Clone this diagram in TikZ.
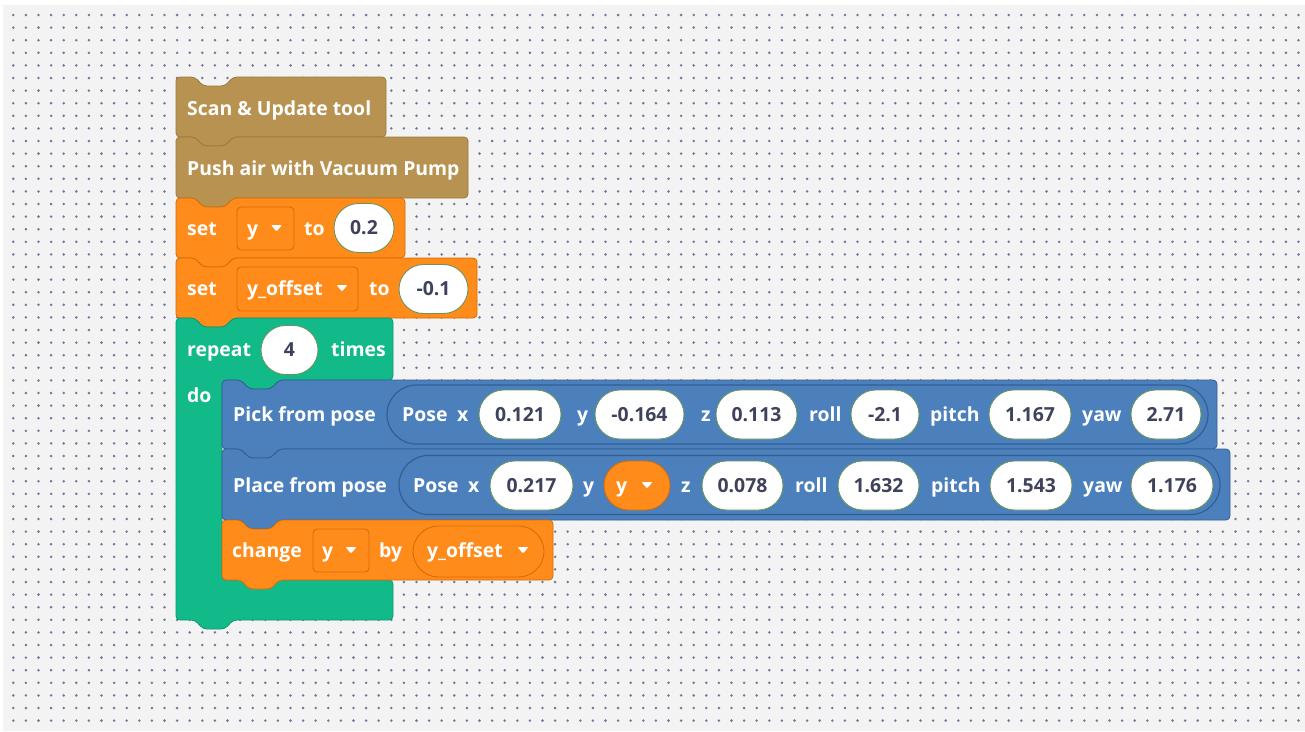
\documentclass[tikz,border=0pt]{standalone}
\usepackage{fontspec}
\setmainfont{Open Sans}
\usetikzlibrary{shapes.misc}
\definecolor{cBg}{RGB}{243,243,244}
\definecolor{cDot}{RGB}{112,120,155}
\definecolor{cBrown}{RGB}{184,146,80}
\definecolor{cBrownD}{RGB}{156,121,60}
\definecolor{cOrange}{RGB}{255,140,26}
\definecolor{cOrangeD}{RGB}{214,108,8}
\definecolor{cGreen}{RGB}{18,185,137}
\definecolor{cGreenD}{RGB}{14,152,112}
\definecolor{cBlue}{RGB}{76,128,188}
\definecolor{cBlueD}{RGB}{50,94,148}
\definecolor{cVal}{RGB}{62,66,90}
\definecolor{cCapLine}{RGB}{104,150,92}
\tikzset{
  lbl/.style={text=white, font=\fontsize{19.4}{19.4}\selectfont\bfseries, inner sep=0pt, text height=13.9pt, text depth=0pt, anchor=west},
  valsty/.style={rounded rectangle, fill=white, draw=cCapLine, line width=0.9pt, text=cVal, font=\fontsize{19.4}{19.4}\selectfont\bfseries, inner sep=0pt, text height=13.9pt, text depth=0pt, minimum height=49pt},
  posesty/.style={rounded rectangle, fill=cBlue, draw=cBlueD, line width=1.2pt, inner sep=0pt, minimum height=59pt},
  ddbox/.style={rectangle, rounded corners=4pt, fill=cOrange, draw=cOrangeD, line width=0.9pt, inner sep=0pt},
  ddcap/.style={rounded rectangle, fill=cOrange, draw=cOrangeD, line width=0.9pt, inner sep=0pt},
  brownblk/.style={fill=cBrown, draw=cBrownD, line width=0.8pt},
  orangeblk/.style={fill=cOrange, draw=cOrangeD, line width=0.8pt},
  greenblk/.style={fill=cGreen, draw=cGreenD, line width=0.8pt},
  blueblk/.style={fill=cBlue, draw=cBlueD, line width=0.8pt},
}
% statement block: left, top, right, bottom, style
\newcommand\stmtblk[5]{%
  \draw[#5, rounded corners=4pt] (#1,{(#2+#4)/2}) -- (#1,#2) -- ({#1+19},#2) -- ({#1+27},{#2+9}) -- ({#1+49},{#2+9}) -- ({#1+57},#2) -- (#3,#2) -- (#3,#4) -- ({#1+57},#4) -- ({#1+49},{#4+9}) -- ({#1+27},{#4+9}) -- ({#1+19},#4) -- (#1,#4) -- cycle;}
% value capsule: name, x1, x2, cy, text
\newcommand\valcap[5]{\node[valsty, minimum width={(#3-#2)*1pt}] (#1) at ({(#2+#3)/2},#4) {#5};}
% dropdown triangle: x, y
\newcommand\ddtri[2]{\fill[white, rounded corners=1pt] ({#1-5.5},{#2-3}) -- ({#1+5.5},{#2-3}) -- (#1,{#2+3.5}) -- cycle;}
\begin{document}
\begin{tikzpicture}[x=1pt, y=-1pt]
\useasboundingbox (0,0) rectangle (1305,731);
\fill[white] (0,0) rectangle (1305,731);
\fill[cBg] (3,5) rectangle (1305,731);
\foreach \i in {0,...,102}{
  \foreach \j in {0,...,56}{
    \fill[cDot] ({13.3+12.6*\i},{15+12.6*\j}) circle (1.4pt);
  }
}
% ---------- stacked blocks ----------
\stmtblk{176}{77}{386}{137}{brownblk}
\stmtblk{176}{137}{468}{198}{brownblk}
\stmtblk{176}{198}{405}{258}{orangeblk}
\stmtblk{176}{258}{477}{318}{orangeblk}
% repeat C-block
\draw[greenblk, rounded corners=4pt] (176,470) -- (176,318) -- (195,318) -- (203,327) -- (225,327) -- (233,318)
  -- (393,318) -- (393,380) -- (279,380) -- (271,389) -- (249,389) -- (241,380) -- (222,380)
  -- (222,580) -- (393,580) -- (393,620) -- (233,620) -- (225,629) -- (203,629) -- (195,620) -- (176,620) -- cycle;
\stmtblk{222}{380}{1217}{449}{blueblk}
\stmtblk{222}{449}{1230}{520}{blueblk}
\stmtblk{222}{520}{553}{580}{orangeblk}
% ---------- texts ----------
\node[lbl] (scan) at (187,108.5) {Scan \& Update tool};
\node[lbl] (push) at (187,168.5) {Push air with Vacuum Pump};
% set y to 0.2
\node[lbl] (set1) at (187,229) {set};
\node[ddbox, minimum width=57pt, minimum height=43pt] (dd1) at (265.5,228.5) {};
\node[lbl] (dd1t) at (247,229) {y};
\ddtri{276.5}{228}
\node[lbl] (to1) at (304,229) {to};
\valcap{v02}{334}{394}{228}{0.2}
% set y_offset to -0.1
\node[lbl] (set2) at (187,289) {set};
\node[ddbox, minimum width=121pt, minimum height=44pt] (dd2) at (297.5,289) {};
\node[lbl] (dd2t) at (247,289) {y\_offset};
\ddtri{342}{288}
\node[lbl] (to2) at (369,289) {to};
\valcap{vm01}{399}{468}{289}{-0.1}
% repeat
\node[lbl] (rep) at (187,350) {repeat};
\valcap{v4}{261}{318}{350}{4}
\node[lbl] (times) at (331,350) {times};
\node[lbl] (do) at (187,396) {do};
% Pick from pose
\node[lbl] (pick) at (233,415) {Pick from pose};
\node[posesty, minimum width=821pt] (pose1) at (797.5,414.5) {};
\node[lbl] (p1pose) at (402,415) {Pose};
\node[lbl] (p1x) at (457,415) {x};
\valcap{p1xv}{479}{561}{414.5}{0.121}
\node[lbl] (p1y) at (577,415) {y};
\valcap{p1yv}{595}{684}{414.5}{-0.164}
\node[lbl] (p1z) at (701,415) {z};
\valcap{p1zv}{716}{797}{414.5}{0.113}
\node[lbl] (p1r) at (809,415) {roll};
\valcap{p1rv}{851}{919}{414.5}{-2.1}
\node[lbl] (p1p) at (930,415) {pitch};
\valcap{p1pv}{989}{1071}{414.5}{1.167}
\node[lbl] (p1w) at (1082,415) {yaw};
\valcap{p1wv}{1131}{1201}{414.5}{2.71}
% Place from pose
\node[lbl] (place) at (233,485.5) {Place from pose};
\node[posesty, minimum width=821pt] (pose2) at (809.5,485) {};
\node[lbl] (p2pose) at (413,485.5) {Pose};
\node[lbl] (p2x) at (468,485.5) {x};
\valcap{p2xv}{490}{573}{485.5}{0.217}
\node[lbl] (p2y) at (583,485.5) {y};
\node[ddcap, minimum width=66pt, minimum height=49pt] (p2yv) at (637,485.5) {};
\node[lbl] (p2yt) at (616,485.5) {y};
\ddtri{647}{485}
\node[lbl] (p2z) at (681,485.5) {z};
\valcap{p2zv}{702}{783}{485.5}{0.078}
\node[lbl] (p2r) at (795,485.5) {roll};
\valcap{p2rv}{838}{919}{485.5}{1.632}
\node[lbl] (p2p) at (931,485.5) {pitch};
\valcap{p2pv}{990}{1072}{485.5}{1.543}
\node[lbl] (p2w) at (1083,485.5) {yaw};
\valcap{p2wv}{1131}{1213}{485.5}{1.176}
% change y by y_offset
\node[lbl] (chg) at (232,551) {change};
\node[ddbox, minimum width=56pt, minimum height=43pt] (dd3) at (341,550.5) {};
\node[lbl] (dd3t) at (322,551) {y};
\ddtri{351}{550}
\node[lbl] (by) at (379,551) {by};
\node[ddcap, minimum width=131pt, minimum height=51pt] (dd4) at (478.5,551.5) {};
\node[lbl] (dd4t) at (427,551) {y\_offset};
\ddtri{523}{550}
\end{tikzpicture}
\end{document}
